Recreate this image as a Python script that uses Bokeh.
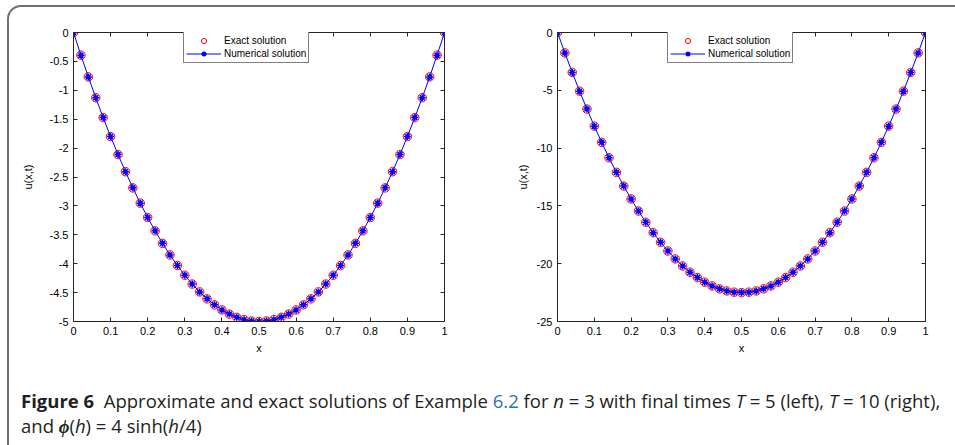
from bokeh.plotting import figure
from bokeh.models import LinearAxis, FixedTicker, Legend, LegendItem, Div, Range1d
from bokeh.layouts import row, column
from bokeh.embed import file_html
from bokeh.resources import INLINE

# Grid points (h = 0.02)
x_vals = [0.00, 0.02, 0.04, 0.06, 0.08, 0.10, 0.12, 0.14, 0.16, 0.18,
          0.20, 0.22, 0.24, 0.26, 0.28, 0.30, 0.32, 0.34, 0.36, 0.38,
          0.40, 0.42, 0.44, 0.46, 0.48, 0.50, 0.52, 0.54, 0.56, 0.58,
          0.60, 0.62, 0.64, 0.66, 0.68, 0.70, 0.72, 0.74, 0.76, 0.78,
          0.80, 0.82, 0.84, 0.86, 0.88, 0.90, 0.92, 0.94, 0.96, 0.98, 1.00]

# T = 5
u_exact_left = [0.0, -0.392, -0.768, -1.128, -1.472, -1.8, -2.112, -2.408, -2.688, -2.952,
                -3.2, -3.432, -3.648, -3.848, -4.032, -4.2, -4.352, -4.488, -4.608, -4.712,
                -4.8, -4.872, -4.928, -4.968, -4.992, -5.0, -4.992, -4.968, -4.928, -4.872,
                -4.8, -4.712, -4.608, -4.488, -4.352, -4.2, -4.032, -3.848, -3.648, -3.432,
                -3.2, -2.952, -2.688, -2.408, -2.112, -1.8, -1.472, -1.128, -0.768, -0.392, 0.0]
u_num_left = [0.0, -0.392, -0.768, -1.128, -1.472, -1.8, -2.112, -2.408, -2.688, -2.952,
              -3.2, -3.432, -3.648, -3.848, -4.032, -4.2, -4.352, -4.488, -4.608, -4.712,
              -4.8, -4.872, -4.928, -4.968, -4.992, -5.0, -4.992, -4.968, -4.928, -4.872,
              -4.8, -4.712, -4.608, -4.488, -4.352, -4.2, -4.032, -3.848, -3.648, -3.432,
              -3.2, -2.952, -2.688, -2.408, -2.112, -1.8, -1.472, -1.128, -0.768, -0.392, 0.0]

# T = 10
u_exact_right = [0.0, -1.764, -3.456, -5.076, -6.624, -8.1, -9.504, -10.836, -12.096, -13.284,
                 -14.4, -15.444, -16.416, -17.316, -18.144, -18.9, -19.584, -20.196, -20.736, -21.204,
                 -21.6, -21.924, -22.176, -22.356, -22.464, -22.5, -22.464, -22.356, -22.176, -21.924,
                 -21.6, -21.204, -20.736, -20.196, -19.584, -18.9, -18.144, -17.316, -16.416, -15.444,
                 -14.4, -13.284, -12.096, -10.836, -9.504, -8.1, -6.624, -5.076, -3.456, -1.764, 0.0]
u_num_right = [0.0, -1.764, -3.456, -5.076, -6.624, -8.1, -9.504, -10.836, -12.096, -13.284,
               -14.4, -15.444, -16.416, -17.316, -18.144, -18.9, -19.584, -20.196, -20.736, -21.204,
               -21.6, -21.924, -22.176, -22.356, -22.464, -22.5, -22.464, -22.356, -22.176, -21.924,
               -21.6, -21.204, -20.736, -20.196, -19.584, -18.9, -18.144, -17.316, -16.416, -15.444,
               -14.4, -13.284, -12.096, -10.836, -9.504, -8.1, -6.624, -5.076, -3.456, -1.764, 0.0]

x_ticks = [0, 0.1, 0.2, 0.3, 0.4, 0.5, 0.6, 0.7, 0.8, 0.9, 1]
x_tick_labels = ["0", "0.1", "0.2", "0.3", "0.4", "0.5", "0.6", "0.7", "0.8", "0.9", "1"]
y_ticks_left = [0, -0.5, -1, -1.5, -2, -2.5, -3, -3.5, -4, -4.5, -5]
y_tick_labels_left = ["0", "-0.5", "-1", "-1.5", "-2", "-2.5", "-3", "-3.5", "-4", "-4.5", "-5"]
y_ticks_right = [0, -5, -10, -15, -20, -25]
y_tick_labels_right = ["0", "-5", "-10", "-15", "-20", "-25"]

FONT = "Liberation Sans"
AX_COLOR = "#262626"


def style_axis(ax, show_labels):
    ax.axis_line_color = AX_COLOR
    ax.axis_line_width = 1
    ax.major_tick_line_color = AX_COLOR
    ax.major_tick_in = 4
    ax.major_tick_out = 0
    ax.minor_tick_line_color = None
    ax.major_label_text_font = FONT
    ax.major_label_text_font_size = "11px"
    ax.axis_label_text_font = FONT
    ax.axis_label_text_font_style = "normal"
    ax.axis_label_text_font_size = "11px"
    ax.axis_label_text_color = "black"
    if show_labels:
        ax.major_label_text_color = "black"
        ax.major_label_standoff = 5
    else:
        # box edges: ticks only
        ax.major_label_text_color = None
        ax.major_label_standoff = 0


def make_panel(u_exact, u_num, y_ticks, y_labels, y_lo, width, b_left, b_right, ylab_standoff):
    p = figure(width=width, height=365, x_range=Range1d(0, 1), y_range=Range1d(y_lo, 0),
               output_backend="svg", toolbar_location=None,
               x_axis_location=None, y_axis_location=None,
               min_border_left=b_left, min_border_right=b_right,
               min_border_top=32, min_border_bottom=44)
    p.xgrid.visible = False
    p.ygrid.visible = False
    p.outline_line_color = None
    p.background_fill_color = "white"
    p.border_fill_color = "white"

    xb = LinearAxis(ticker=FixedTicker(ticks=x_ticks),
                    major_label_overrides=dict(zip(x_ticks, x_tick_labels)),
                    axis_label="x", axis_label_standoff=4)
    style_axis(xb, True)
    p.add_layout(xb, "below")

    yl = LinearAxis(ticker=FixedTicker(ticks=y_ticks),
                    major_label_overrides=dict(zip(y_ticks, y_labels)),
                    axis_label="u(x,t)", axis_label_standoff=ylab_standoff)
    style_axis(yl, True)
    p.add_layout(yl, "left")

    xt = LinearAxis(ticker=FixedTicker(ticks=x_ticks),
                    major_label_overrides={t: "" for t in x_ticks})
    style_axis(xt, False)
    p.add_layout(xt, "above")

    yr = LinearAxis(ticker=FixedTicker(ticks=y_ticks),
                    major_label_overrides={t: "" for t in y_ticks})
    style_axis(yr, False)
    p.add_layout(yr, "right")

    r_ex = p.scatter(x_vals, u_exact, marker="circle", size=8.5, fill_color=None,
                     line_color="red", line_width=1)
    r_line = p.line(x_vals, u_num, line_color="blue", line_width=1)
    r_star = p.scatter(x_vals, u_num, marker="asterisk", size=7,
                       line_color="blue", line_width=1.5)

    legend = Legend(items=[LegendItem(label="Exact solution", renderers=[r_ex]),
                           LegendItem(label="Numerical solution", renderers=[r_line, r_star])],
                    location=(110, 258))
    legend.label_text_font = FONT
    legend.label_text_font_size = "10px"
    legend.label_text_color = "black"
    legend.border_line_color = "black"
    legend.border_line_width = 0.6
    legend.background_fill_color = "white"
    legend.background_fill_alpha = 1
    legend.glyph_width = 35
    legend.glyph_height = 13
    legend.label_height = 13
    legend.label_standoff = 3
    legend.spacing = 0
    legend.padding = 2
    legend.margin = 0
    p.add_layout(legend)
    return p


p_left = make_panel(u_exact_left, u_num_left, y_ticks_left, y_tick_labels_left, -5,
                    500, 73, 56, 13)
p_right = make_panel(u_exact_right, u_num_right, y_ticks_right, y_tick_labels_right, -25,
                     455, 57, 30, 5)

caption_html = (
    '<div style="position:fixed;left:7px;top:5px;width:1100px;height:600px;'
    'border:2px solid #707070;border-radius:14px;pointer-events:none;"></div>'
    '<div style="font-family:\'Open Sans\';font-size:18.5px;line-height:25px;color:#231f20;'
    'white-space:nowrap;padding:18px 0 0 16px;">'
    '<b>Figure 6</b>&nbsp;&nbsp;Approximate and exact solutions of Example '
    '<span style="color:#2f6fba">6.2</span> for <i>n</i> = 3 with final times '
    '<i>T</i> = 5 (left), <i>T</i> = 10 (right),<br>'
    'and <b><i>&#981;</i></b>(<i>h</i>) = 4 sinh(<i>h</i>/4)</div>'
)
caption = Div(text=caption_html, width=955, height=80)

layout = column(row(p_left, p_right), caption)

with open("out.html", "w") as f:
    f.write(file_html(layout, INLINE))
